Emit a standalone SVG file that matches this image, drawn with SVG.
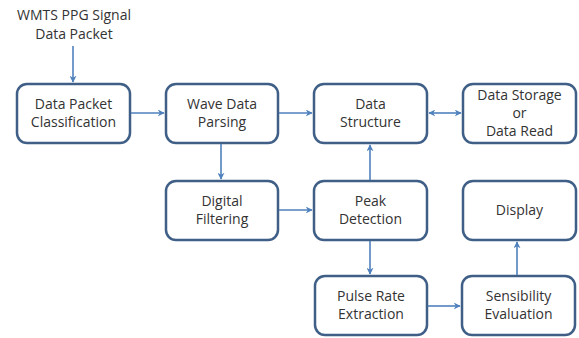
<svg xmlns="http://www.w3.org/2000/svg" width="579" height="338" viewBox="0 0 579 338">
<style>
.box{fill:#fff;stroke:#3f5f87;stroke-width:2.5}
.t{font-family:"Open Sans","Noto Sans",sans-serif;font-size:14px;fill:#333;text-anchor:middle}
.c{stroke:#4f81bd;stroke-width:1.6;fill:none}
</style>
<defs>
<marker id="a" viewBox="0 0 10 10" refX="9" refY="5" markerWidth="7" markerHeight="7" orient="auto-start-reverse" markerUnits="userSpaceOnUse"><path d="M0,0 L10,5 L0,10 L3,5 z" fill="#4f81bd"/></marker>
</defs>
<rect width="579" height="338" fill="#fff"/>
<g id="input"><text class="t" x="74" y="20">WMTS PPG Signal</text><text class="t" x="74" y="39">Data Packet</text></g>
<g id="n1"><rect class="box" x="17" y="84" width="113" height="59" rx="10"/><text class="t" x="73.5" y="109">Data Packet</text><text class="t" x="73.5" y="127">Classification</text></g>
<g id="n2"><rect class="box" x="166" y="84" width="112" height="59" rx="10"/><text class="t" x="222" y="109">Wave Data</text><text class="t" x="222" y="127">Parsing</text></g>
<g id="n3"><rect class="box" x="314" y="84" width="113" height="59" rx="10"/><text class="t" x="370.5" y="109">Data</text><text class="t" x="370.5" y="127">Structure</text></g>
<g id="n4"><rect class="box" x="463" y="84" width="113" height="59" rx="10"/><text class="t" x="519.5" y="100">Data Storage</text><text class="t" x="519.5" y="118">or</text><text class="t" x="519.5" y="136">Data Read</text></g>
<g id="n5"><rect class="box" x="166" y="181" width="112" height="59" rx="10"/><text class="t" x="222" y="206">Digital</text><text class="t" x="222" y="224">Filtering</text></g>
<g id="n6"><rect class="box" x="314" y="181" width="113" height="59" rx="10"/><text class="t" x="370.5" y="206">Peak</text><text class="t" x="370.5" y="224">Detection</text></g>
<g id="n7"><rect class="box" x="463" y="181" width="113" height="59" rx="10"/><text class="t" x="519.5" y="215">Display</text></g>
<g id="n8"><rect class="box" x="315" y="276" width="112" height="59" rx="10"/><text class="t" x="371" y="301">Pulse Rate</text><text class="t" x="371" y="319">Extraction</text></g>
<g id="n9"><rect class="box" x="462" y="276" width="113" height="59" rx="10"/><text class="t" x="518.5" y="301">Sensibility</text><text class="t" x="518.5" y="319">Evaluation</text></g>
<g id="connectors">
<line class="c" x1="73" y1="46" x2="73" y2="82" marker-end="url(#a)"/>
<line class="c" x1="131" y1="113" x2="164" y2="113" marker-end="url(#a)"/>
<line class="c" x1="279" y1="113" x2="312" y2="113" marker-end="url(#a)"/>
<line class="c" x1="429" y1="113" x2="461" y2="113" marker-start="url(#a)" marker-end="url(#a)"/>
<line class="c" x1="221" y1="144" x2="221" y2="179" marker-end="url(#a)"/>
<line class="c" x1="279" y1="210" x2="312" y2="210" marker-end="url(#a)"/>
<line class="c" x1="370" y1="180" x2="370" y2="145" marker-end="url(#a)"/>
<line class="c" x1="370" y1="241" x2="370" y2="274" marker-end="url(#a)"/>
<line class="c" x1="428" y1="306" x2="460" y2="306" marker-end="url(#a)"/>
<line class="c" x1="517" y1="275" x2="517" y2="242" marker-end="url(#a)"/>
</g>
</svg>
